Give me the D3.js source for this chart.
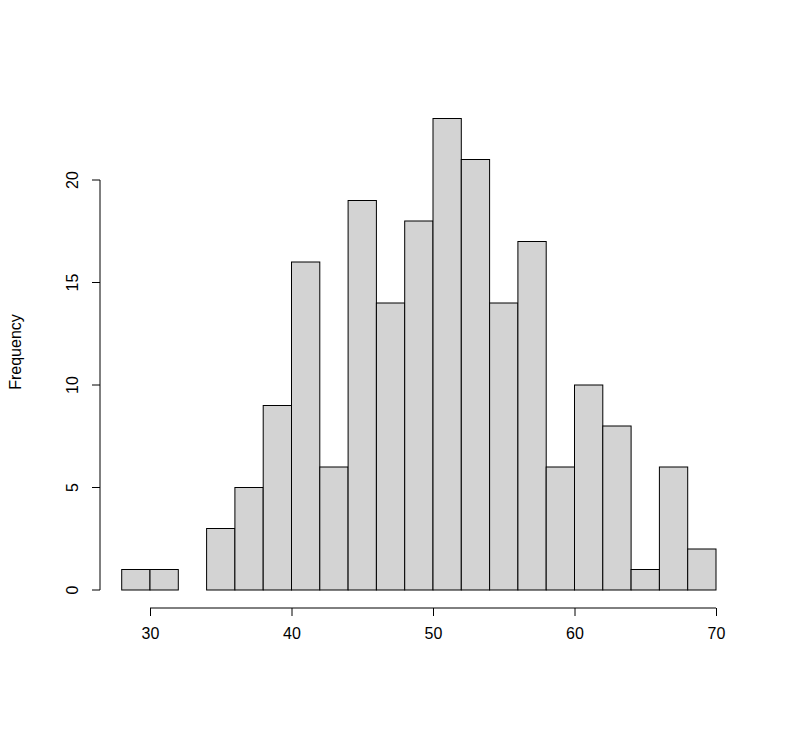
<!DOCTYPE html>
<html>
<head>
<meta charset="utf-8">
<script src="https://cdn.jsdelivr.net/npm/d3@7"></script>
<style>
body { margin: 0; background: #fff; }
text { font-family: "Liberation Sans", Arial, sans-serif; font-size: 16px; fill: #000; }
</style>
</head>
<body>
<script>
// histogram bins (width 2) and counts
var binStarts = [28,30,32,34,36,38,40,42,44,46,48,50,52,54,56,58,60,62,64,66,68];
var counts = [1,1,0,3,5,9,16,6,19,14,18,23,21,14,17,6,10,8,1,6,2];
var xTicks = [30,40,50,60,70];
var yTicks = [0,5,10,15,20];

var svg = d3.select("body").append("svg").attr("width", 791).attr("height", 732);

var x = d3.scaleLinear().domain([30, 70]).range([150, 716]);
var y = d3.scaleLinear().domain([0, 20]).range([590, 180]);

svg.selectAll("rect.bar")
    .data(binStarts)
    .enter().append("rect")
    .attr("class", "bar")
    .attr("x", function (d) { return x(d); })
    .attr("width", function (d) { return x(d + 2) - x(d); })
    .attr("y", function (d, i) { return y(counts[i]); })
    .attr("height", function (d, i) { return y(0) - y(counts[i]); })
    .attr("fill", "#d3d3d3")
    .attr("stroke", "#000")
    .attr("stroke-width", 1);

var xAxis = d3.axisBottom(x).tickValues(xTicks).tickSize(8).tickPadding(12);
var gx = svg.append("g").attr("transform", "translate(0,608)").call(xAxis);
gx.select(".domain").attr("d", "M" + x(30) + ",0H" + x(70));
gx.selectAll("text").style("font-size", "16px").style("font-family", "Liberation Sans, Arial, sans-serif");

var yAxis = d3.axisLeft(y).tickValues(yTicks).tickSize(8).tickPadding(6);
var gy = svg.append("g").attr("transform", "translate(100,0)").call(yAxis);
gy.select(".domain").attr("d", "M0," + y(0) + "V" + y(20));
gy.selectAll("text")
    .style("font-size", "16px").style("font-family", "Liberation Sans, Arial, sans-serif")
    .attr("text-anchor", "middle")
    .attr("dy", 0)
    .attr("x", 0)
    .attr("transform", function (d) { return "translate(-22," + y(d) + ") rotate(-90)"; })
    .attr("y", 0);
gy.selectAll(".tick").attr("transform", null);
gy.selectAll(".tick line").attr("transform", function (d) { return "translate(0," + y(d) + ")"; });

svg.append("text")
    .attr("transform", "translate(21,352) rotate(-90)")
    .attr("text-anchor", "middle")
    .text("Frequency");
</script>
</body>
</html>
